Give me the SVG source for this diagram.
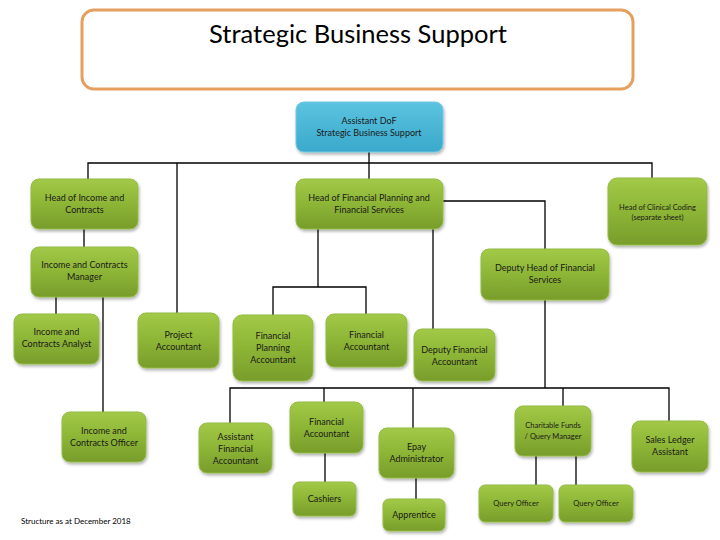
<svg xmlns="http://www.w3.org/2000/svg" width="720" height="540" viewBox="0 0 720 540">
<defs>
<linearGradient id="g" x1="0" y1="0" x2="0" y2="1">
<stop offset="0" stop-color="#a2c947"/>
<stop offset="0.5" stop-color="#8db536"/>
<stop offset="1" stop-color="#789d2b"/>
</linearGradient>
<linearGradient id="b" x1="0" y1="0" x2="0" y2="1">
<stop offset="0" stop-color="#5cc3e0"/>
<stop offset="1" stop-color="#3aa9cb"/>
</linearGradient>
<filter id="sh" x="-10%" y="-10%" width="125%" height="135%">
<feDropShadow dx="1" dy="2" stdDeviation="1.5" flood-color="#000" flood-opacity="0.3"/>
</filter>
<style>
.n rect{fill:url(#g);stroke:#93bb45;stroke-width:1;filter:url(#sh)}
.bl rect{fill:url(#b);stroke:#6fc8e2;stroke-width:1;filter:url(#sh)}
text{font-family:Lato,"Liberation Sans",sans-serif;fill:#1a1a1a;text-anchor:middle;font-size:9px}
.s{font-size:7.5px}
.c path{fill:none;stroke:#000;stroke-width:1.3}
</style>
</defs>
<rect x="82" y="10" width="551" height="79" rx="12" fill="#fff" stroke="#e59f5f" stroke-width="3"/>
<text x="358" y="43" style="font-size:25.5px;fill:#000">Strategic Business Support</text>
<g class="c">
<path d="M369,152 V179"/>
<path d="M88,179 V163 H652 V178"/>
<path d="M177,163 V313"/>
<path d="M84,229 V247"/>
<path d="M56,297 V314"/>
<path d="M103,297 V412"/>
<path d="M443,201 H545 V249"/>
<path d="M318,229 V287"/>
<path d="M273,315 V287 H366 V314"/>
<path d="M433,229 V329"/>
<path d="M545,300 V388"/>
<path d="M230,423 V388 H669 V421"/>
<path d="M324,388 V402"/>
<path d="M413,388 V428"/>
<path d="M563,388 V406"/>
<path d="M325,453 V482"/>
<path d="M416,478 V499"/>
<path d="M536,456 V485"/>
<path d="M576,456 V485"/>
</g>
<g id="asst" class="bl"><rect x="296" y="102" width="147" height="50" rx="8"/><text x="369" y="124">Assistant DoF</text><text x="369" y="136">Strategic Business Support</text></g>
<g id="hic" class="n"><rect x="31" y="179" width="107" height="50" rx="8"/><text x="84.5" y="201">Head of Income and</text><text x="84.5" y="213">Contracts</text></g>
<g id="hfp" class="n"><rect x="296" y="179" width="147" height="50" rx="8"/><text x="369" y="201">Head of Financial Planning and</text><text x="369" y="213">Financial Services</text></g>
<g id="hcc" class="n"><rect x="608" y="178" width="99" height="67" rx="9"/><text class="s" x="657.5" y="210">Head of Clinical Coding</text><text class="s" x="657.5" y="220">(separate sheet)</text></g>
<g id="icm" class="n"><rect x="31" y="247" width="107" height="50" rx="8"/><text x="84.5" y="268">Income and Contracts</text><text x="84.5" y="280">Manager</text></g>
<g id="dhfs" class="n"><rect x="481" y="249" width="128" height="51" rx="8"/><text x="545" y="271">Deputy Head of Financial</text><text x="545" y="283">Services</text></g>
<g id="ica" class="n"><rect x="14" y="314" width="85" height="50" rx="8"/><text x="56.5" y="335">Income and</text><text x="56.5" y="347">Contracts Analyst</text></g>
<g id="pa" class="n"><rect x="138" y="313" width="81" height="55" rx="8"/><text x="178.5" y="338">Project</text><text x="178.5" y="350">Accountant</text></g>
<g id="fpa" class="n"><rect x="233" y="315" width="80" height="66" rx="9"/><text x="273" y="339">Financial</text><text x="273" y="351">Planning</text><text x="273" y="363">Accountant</text></g>
<g id="fa1" class="n"><rect x="326" y="314" width="81" height="53" rx="8"/><text x="366.5" y="338">Financial</text><text x="366.5" y="350">Accountant</text></g>
<g id="dfa" class="n"><rect x="414" y="329" width="81" height="52" rx="8"/><text x="454.5" y="353">Deputy Financial</text><text x="454.5" y="365">Accountant</text></g>
<g id="ico" class="n"><rect x="62" y="412" width="84" height="50" rx="8"/><text x="104" y="434">Income and</text><text x="104" y="446">Contracts Officer</text></g>
<g id="afa" class="n"><rect x="199" y="423" width="73" height="50" rx="8"/><text x="235.5" y="440">Assistant</text><text x="235.5" y="452">Financial</text><text x="235.5" y="464">Accountant</text></g>
<g id="fa2" class="n"><rect x="290" y="402" width="73" height="51" rx="8"/><text x="326.5" y="425">Financial</text><text x="326.5" y="437">Accountant</text></g>
<g id="epay" class="n"><rect x="379" y="428" width="75" height="50" rx="8"/><text x="416.5" y="450">Epay</text><text x="416.5" y="462">Administrator</text></g>
<g id="cfqm" class="n"><rect x="515" y="406" width="76" height="50" rx="8"/><text class="s" x="553" y="428">Charitable Funds</text><text class="s" x="553" y="439">/ Query Manager</text></g>
<g id="sla" class="n"><rect x="632" y="421" width="76" height="51" rx="8"/><text x="670" y="443">Sales Ledger</text><text x="670" y="455">Assistant</text></g>
<g id="cash" class="n"><rect x="293" y="482" width="63" height="34" rx="6"/><text x="324.5" y="502">Cashiers</text></g>
<g id="appr" class="n"><rect x="383" y="499" width="62" height="32" rx="6"/><text x="414" y="518">Apprentice</text></g>
<g id="qo1" class="n"><rect x="479" y="485" width="74" height="37" rx="6"/><text class="s" x="516" y="506">Query Officer</text></g>
<g id="qo2" class="n"><rect x="559" y="485" width="74" height="37" rx="6"/><text class="s" x="596" y="506">Query Officer</text></g>
<text x="21" y="524" style="font-size:8px;text-anchor:start;fill:#000">Structure as at December 2018</text>
</svg>
